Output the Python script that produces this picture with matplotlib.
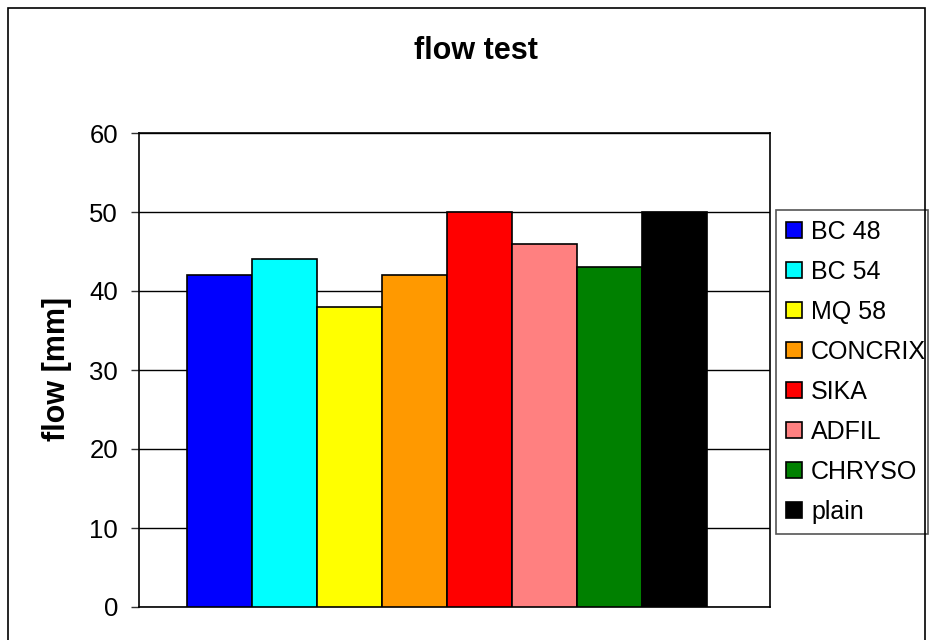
import matplotlib.pyplot as plt
from matplotlib.patches import Rectangle

plt.rcParams['font.family'] = ['Liberation Sans', 'DejaVu Sans']

# data
labels = ["BC 48", "BC 54", "MQ 58", "CONCRIX", "SIKA", "ADFIL", "CHRYSO", "plain"]
flow = [42, 44, 38, 42, 50, 46, 43, 50]
colors = ["#0000ff", "#00ffff", "#ffff00", "#ff9900", "#ff0000", "#ff8080", "#008000", "#000000"]

W, H = 933, 640
fig = plt.figure(figsize=(W / 100, H / 100), dpi=100)

# outer chart frame
fig.patches.append(Rectangle((8 / W, -0.01), 917 / W, 1 - 8 / H + 0.01, transform=fig.transFigure,
                             fill=False, edgecolor="black", linewidth=1.2))

ax = fig.add_axes([139 / W, 1 - 607 / H, (770 - 139) / W, (607 - 133) / H])
ax.set_xlim(0, 631)
ax.set_ylim(0, 60)
ax.set_yticks(range(0, 61, 10))
ax.set_xticks([])
ax.yaxis.grid(True, color="black", linewidth=1)
ax.set_axisbelow(True)
for s in ax.spines.values():
    s.set_linewidth(1.2)
ax.tick_params(axis="y", length=6, width=1, labelsize=18.5, color="#333333", pad=9)

bar_w = 65
x0 = 48
for i, (lab, v, c) in enumerate(zip(labels, flow, colors)):
    ax.bar(x0 + i * bar_w, v, width=bar_w, align="edge", color=c, edgecolor="black",
           linewidth=1.2, label=lab, zorder=3)

fig.text(57 / W, 1 - 369 / H, "flow [mm]", rotation=90, ha="center", va="center",
         fontsize=22, fontweight="bold")
fig.text(476 / W, 1 - 51 / H, "flow test", ha="center", va="center", fontsize=22, fontweight="bold")

leg = ax.legend(loc="upper left", bbox_to_anchor=(776 / W, 1 - 530 / H, 152 / W, 320 / H),
                bbox_transform=fig.transFigure, mode="expand", fancybox=False, framealpha=1,
                edgecolor="#555555", fontsize=18, handlelength=0.64, handleheight=0.64,
                handletextpad=0.36, labelspacing=0.64, borderaxespad=0, borderpad=0.4)
leg.get_frame().set_linewidth(1.2)

fig.savefig("out.png", dpi=100)
